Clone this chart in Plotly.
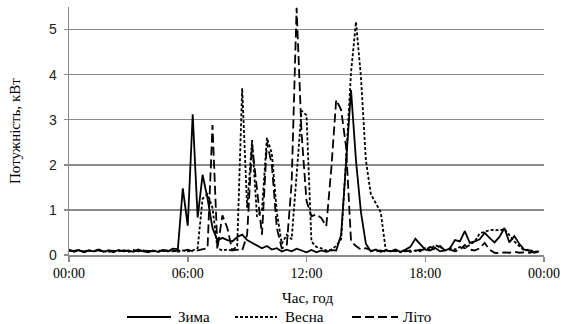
import plotly.graph_objects as go

# time of day, 15-minute steps
times = [f"{h:02d}:{m:02d}" for h in range(24) for m in (0, 15, 30, 45)]
hours = [int(t[:2]) + int(t[3:]) / 60 for t in times]

zima = [0.12, 0.07, 0.11, 0.06, 0.10, 0.08, 0.12, 0.07, 0.10, 0.06, 0.11, 0.08,
        0.10, 0.07, 0.12, 0.08, 0.06, 0.10, 0.07, 0.11, 0.08, 0.14, 0.13, 1.48,
        0.65, 3.12, 0.83, 1.78, 1.25, 0.60, 0.32, 0.38, 0.33, 0.30, 0.40, 0.45,
        0.33, 0.27, 0.20, 0.15, 0.20, 0.12, 0.15, 0.08, 0.12, 0.08, 0.14, 0.10,
        0.06, 0.11, 0.06, 0.10, 0.07, 0.11, 0.10, 0.45, 2.00, 3.66, 2.10, 0.95,
        0.25, 0.08, 0.12, 0.07, 0.10, 0.08, 0.12, 0.07, 0.12, 0.18, 0.36, 0.25,
        0.12, 0.10, 0.16, 0.08, 0.10, 0.15, 0.33, 0.30, 0.53, 0.27, 0.30, 0.35,
        0.49, 0.38, 0.28, 0.40, 0.60, 0.28, 0.42, 0.25, 0.12, 0.10, 0.05, 0.08]

vesna = [0.09, 0.08, 0.10, 0.07, 0.09, 0.08, 0.10, 0.08, 0.07, 0.09, 0.08, 0.10,
         0.07, 0.09, 0.08, 0.10, 0.08, 0.09, 0.07, 0.10, 0.08, 0.09, 0.07, 0.10,
         0.08, 0.10, 0.15, 1.25, 1.35, 1.05, 0.15, 0.10, 0.12, 0.10, 0.20, 3.70,
         1.05, 2.55, 0.85, 1.00, 2.60, 2.25, 0.95, 0.25, 0.45, 0.35, 1.80, 3.20,
         3.10, 0.30, 0.18, 0.15, 0.10, 0.12, 0.20, 0.35, 2.10, 4.05, 5.17, 3.95,
         2.10, 1.35, 1.15, 0.95, 0.12, 0.08, 0.10, 0.06, 0.09, 0.07, 0.10, 0.08,
         0.15, 0.12, 0.22, 0.18, 0.10, 0.15, 0.12, 0.18, 0.15, 0.22, 0.30, 0.48,
         0.52, 0.55, 0.56, 0.54, 0.58, 0.45, 0.30, 0.20, 0.10, 0.12, 0.07, 0.08]

lito = [0.10, 0.09, 0.11, 0.08, 0.10, 0.09, 0.11, 0.08, 0.10, 0.09, 0.08, 0.10,
        0.09, 0.11, 0.08, 0.10, 0.09, 0.08, 0.10, 0.09, 0.11, 0.08, 0.10, 0.09,
        0.12, 0.08, 0.10, 0.12, 0.15, 2.88, 0.15, 0.88, 0.60, 0.10, 0.12, 0.10,
        0.45, 2.45, 1.40, 0.45, 2.50, 2.00, 0.60, 0.15, 0.20, 1.60, 5.48, 2.70,
        1.20, 0.86, 0.90, 0.82, 0.64, 1.90, 3.44, 3.22, 2.40, 0.30, 0.20, 0.12,
        0.15, 0.10, 0.08, 0.10, 0.07, 0.09, 0.08, 0.10, 0.08, 0.10, 0.09, 0.12,
        0.10, 0.18, 0.12, 0.20, 0.10, 0.12, 0.08, 0.12, 0.22, 0.12, 0.10, 0.15,
        0.27, 0.12, 0.05, 0.04, 0.06, 0.05, 0.07, 0.05, 0.06, 0.05, 0.07, 0.05]

series_names = ["Зима", "Весна", "Літо"]
x_tick_vals = [0, 6, 12, 18, 24]
x_tick_text = ["00:00", "06:00", "12:00", "18:00", "00:00"]
y_tick_vals = [0, 1, 2, 3, 4, 5]

SERIF = "Liberation Serif, Times New Roman, serif"
SANS = "Liberation Sans, Arial, sans-serif"
GRID = "#8a8a8a"

W, H = 570, 324
ML, MR, MT, MB = 69, 26, 7, 69
PW, PH = W - ML - MR, H - MT - MB


def px_x(px):
    return (px - ML) / PW


def px_y(py):
    return (H - MB - py) / PH


fig = go.Figure()
dashes = ["solid", "3px,2px", "9px,4px"]
for name, vals, d in zip(series_names, [zima, vesna, lito], dashes):
    fig.add_trace(go.Scatter(x=hours, y=vals, mode="lines", name=name,
                             line=dict(color="black", width=1.8, dash=d),
                             cliponaxis=False, showlegend=False))

# manual legend below the chart
legend_items = [(127, 171, 176), (235, 277, 283), (352, 398, 401)]
legend_y = 317
shapes = []
annotations = []
for (x0, x1, xt), name, d in zip(legend_items, series_names, dashes):
    shapes.append(dict(type="line", xref="paper", yref="paper",
                       x0=px_x(x0), x1=px_x(x1), y0=px_y(legend_y), y1=px_y(legend_y),
                       line=dict(color="black", width=1.8, dash=d)))
    annotations.append(dict(text=name, xref="paper", yref="paper", x=px_x(xt), y=px_y(legend_y),
                            xanchor="left", yanchor="middle", showarrow=False,
                            font=dict(family=SERIF, size=15, color="black")))

annotations.append(dict(text="Час, год", xref="paper", yref="paper", x=px_x(307), y=px_y(298),
                        xanchor="center", yanchor="middle", showarrow=False,
                        font=dict(family=SERIF, size=15, color="black")))
annotations.append(dict(text="Потужність, кВт", xref="paper", yref="paper", x=px_x(15), y=px_y(131),
                        xanchor="center", yanchor="middle", showarrow=False, textangle=-90,
                        font=dict(family=SERIF, size=15, color="black")))

fig.update_layout(
    width=W, height=H,
    margin=dict(l=ML, r=MR, t=MT, b=MB, autoexpand=False),
    paper_bgcolor="white", plot_bgcolor="white",
    showlegend=False,
    xaxis=dict(range=[0, 24], tickvals=x_tick_vals, ticktext=x_tick_text, automargin=False,
               showgrid=False, zeroline=False, showline=True, linecolor=GRID, linewidth=1.5,
               ticks="outside", ticklen=5, tickcolor=GRID, tickwidth=1.5,
               tickfont=dict(family=SERIF, size=14, color="black")),
    yaxis=dict(range=[0, 5.5], tickvals=y_tick_vals, automargin=False,
               showgrid=True, gridcolor=GRID, gridwidth=1.5, zeroline=False,
               showline=True, linecolor=GRID, linewidth=1.5,
               ticks="outside", ticklen=4, tickcolor=GRID, tickwidth=1.5,
               ticklabelstandoff=4,
               tickfont=dict(family=SANS, size=14, color="#222222")),
    shapes=shapes,
    annotations=annotations,
)

fig.write_html("out.html", config={"displayModeBar": False, "staticPlot": True},
               post_script="document.body.style.margin='0';document.body.style.padding='0';")
